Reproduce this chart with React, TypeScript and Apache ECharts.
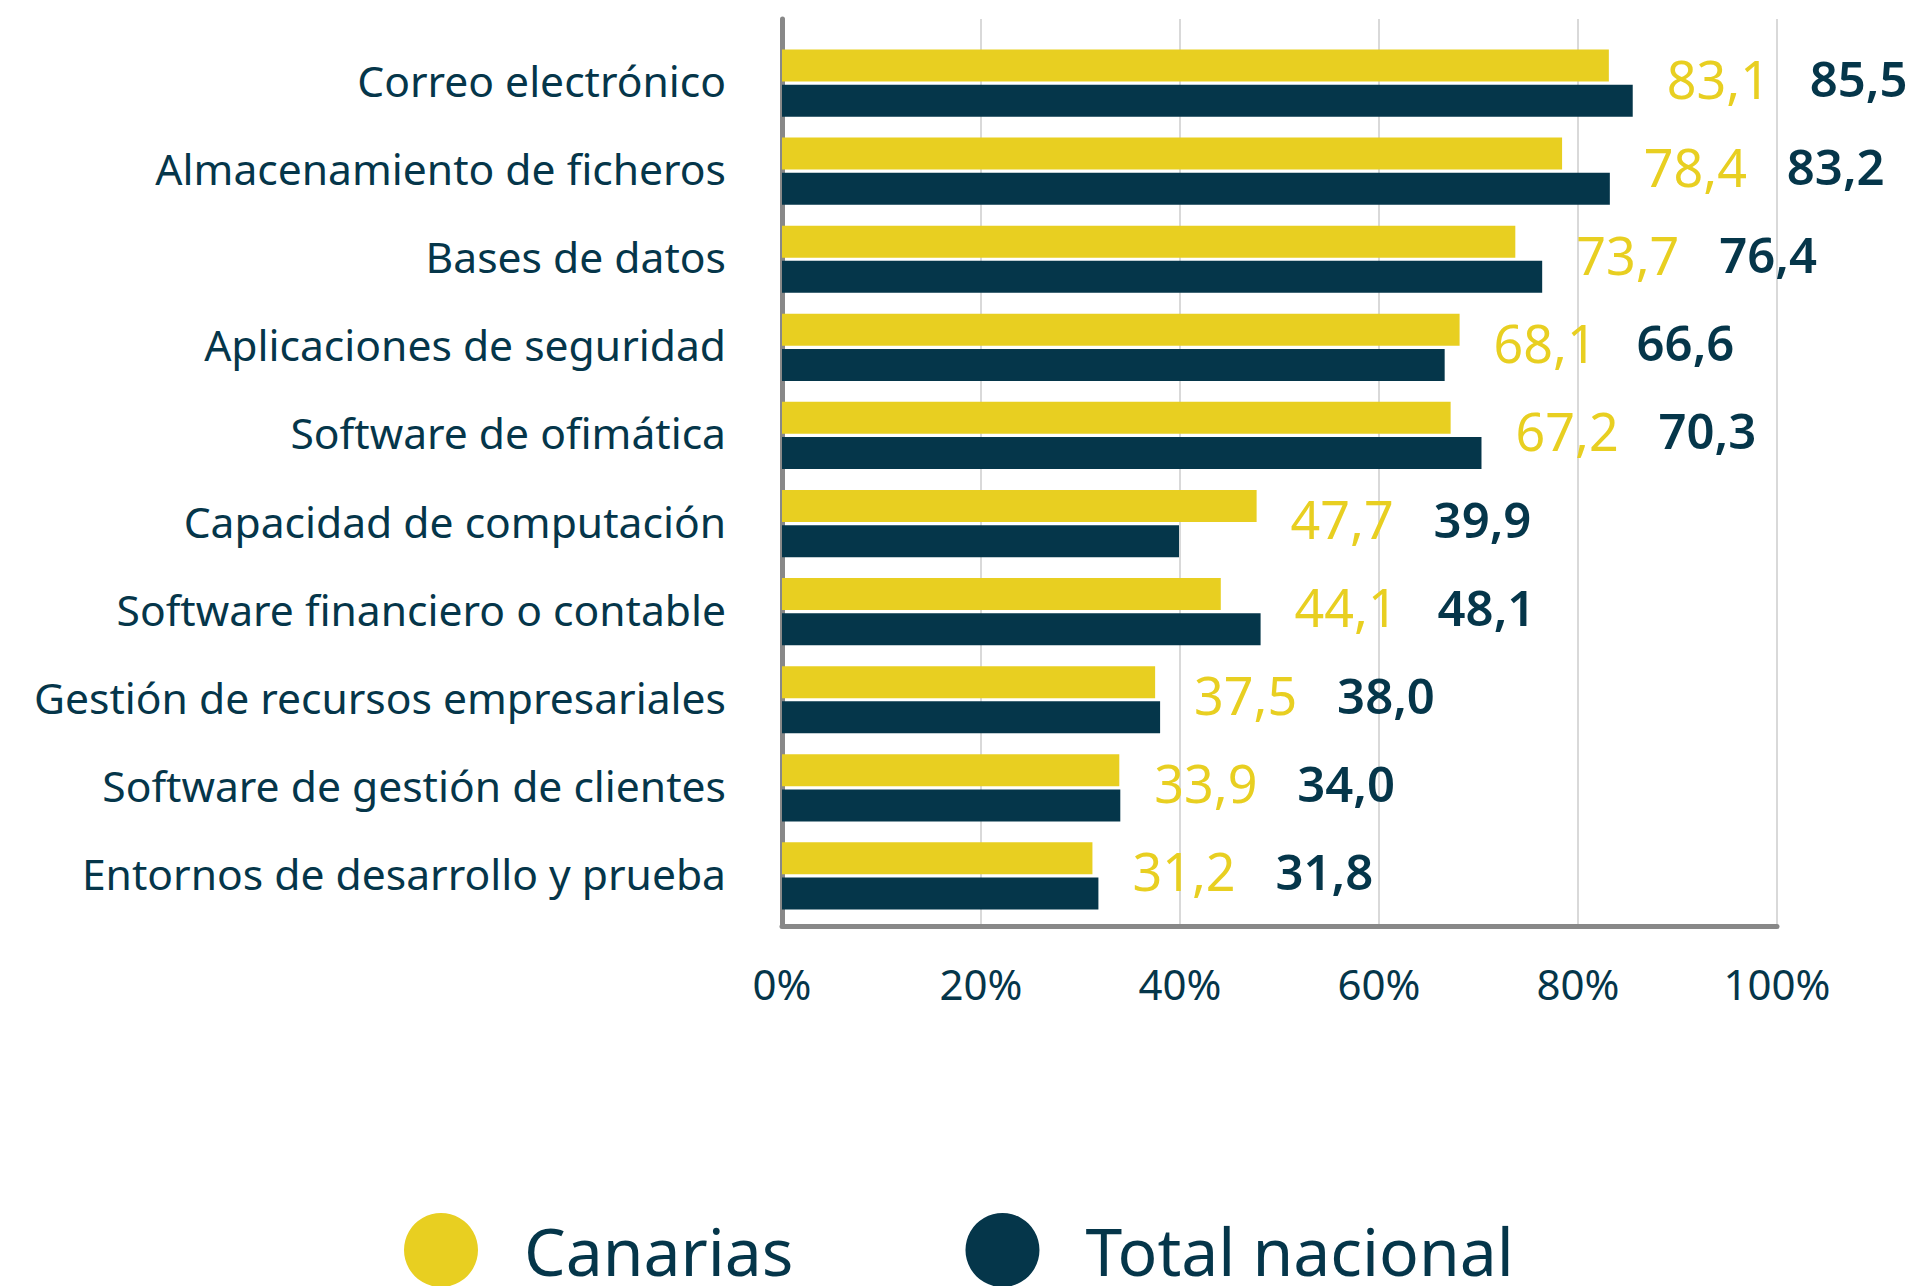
import React, { useEffect, useRef } from "react";
import * as echarts from "echarts";

const categories = [
  "Correo electrónico",
  "Almacenamiento de ficheros",
  "Bases de datos",
  "Aplicaciones de seguridad",
  "Software de ofimática",
  "Capacidad de computación",
  "Software financiero o contable",
  "Gestión de recursos empresariales",
  "Software de gestión de clientes",
  "Entornos de desarrollo y prueba",
];
const canarias = [83.1, 78.4, 73.7, 68.1, 67.2, 47.7, 44.1, 37.5, 33.9, 31.2];
const nacional = [85.5, 83.2, 76.4, 66.6, 70.3, 39.9, 48.1, 38.0, 34.0, 31.8];
const seriesNames = ["Canarias", "Total nacional"];
const xMin = 0;
const xMax = 100;
const xInterval = 20;

const YELLOW = "#E8CF21";
const DARK = "#05364A";
const FONT = "'Noto Sans', sans-serif";

const fmt = (v: number) => v.toFixed(1).replace(".", ",");

export default function App() {
  const ref = useRef<HTMLDivElement>(null);
  useEffect(() => {
    if (!ref.current) return;
    const chart = echarts.init(ref.current, undefined, { renderer: "svg" });
    const labelData = categories.map((_, i) => [Math.max(canarias[i], nacional[i]), i]);
    chart.setOption({
      animation: false,
      backgroundColor: "#ffffff",
      textStyle: { fontFamily: FONT },
      legend: {
        data: seriesNames,
        left: 404,
        top: 1213,
        padding: 0,
        icon: "circle",
        itemWidth: 74,
        itemHeight: 74,
        itemGap: 172,
        textStyle: {
          fontSize: 66,
          lineHeight: 62,
          color: DARK,
          fontFamily: FONT,
          padding: [0, 0, 0, 41],
        },
      },
      grid: [
        { left: 782, right: 138, top: 19, bottom: 360, containLabel: false },
        { left: 782, right: 138, top: 39, bottom: 366, containLabel: false },
      ],
      xAxis: [
        {
          gridIndex: 0,
          type: "value",
          min: xMin,
          max: xMax,
          interval: xInterval,
          axisLine: { show: true, lineStyle: { color: "#888888", width: 5 } },
          axisTick: { show: false },
          splitLine: { show: true, lineStyle: { color: "#d9d9d9", width: 2 } },
          axisLabel: {
            formatter: (v: number) => v + "%",
            fontSize: 42,
            color: DARK,
            fontFamily: FONT,
            margin: 36,
          },
        },
        { gridIndex: 1, type: "value", min: xMin, max: xMax, show: false },
      ],
      yAxis: [
        {
          gridIndex: 0,
          type: "value",
          min: 0,
          max: 1,
          position: "left",
          axisLine: { show: true, onZero: false, lineStyle: { color: "#888888", width: 5 } },
          axisTick: { show: false },
          axisLabel: { show: false },
          splitLine: { show: false },
        },
        {
          gridIndex: 1,
          type: "category",
          data: categories,
          inverse: true,
          axisLine: { show: false },
          axisTick: { show: false },
          splitLine: { show: false },
          axisLabel: {
            fontSize: 42.6,
            color: DARK,
            fontFamily: FONT,
            margin: 56,
            interval: 0,
            verticalAlign: "bottom",
            lineHeight: 6,
          },
        },
      ],
      series: [
        { type: "scatter", xAxisIndex: 0, yAxisIndex: 0, data: [], silent: true },
        {
          name: seriesNames[0],
          type: "bar",
          xAxisIndex: 1,
          yAxisIndex: 1,
          data: canarias,
          barWidth: 32,
          barGap: "10%",
          itemStyle: { color: YELLOW },
        },
        {
          name: seriesNames[1],
          type: "bar",
          xAxisIndex: 1,
          yAxisIndex: 1,
          data: nacional,
          barWidth: 32,
          barGap: "10%",
          itemStyle: { color: DARK },
        },
        {
          name: "labels",
          type: "scatter",
          xAxisIndex: 1,
          yAxisIndex: 1,
          data: labelData,
          symbolSize: 0,
          silent: true,
          itemStyle: { opacity: 1 },
          label: {
            show: true,
            position: "right",
            distance: 34,
            offset: [0, -5],
            opacity: 1,
            formatter: (p: any) => {
              const i = p.dataIndex;
              return `{a|${fmt(canarias[i])}}{b|${fmt(nacional[i])}}`;
            },
            rich: {
              a: { fontSize: 52, color: YELLOW, fontFamily: FONT, width: 143 },
              b: { fontSize: 49, color: DARK, fontFamily: FONT, fontWeight: 600 },
            },
          },
        },
      ],
    });
    return () => chart.dispose();
  }, []);
  return (
    <div
      ref={ref}
      style={{ position: "absolute", left: 0, top: 0, width: 1915, height: 1286 }}
    />
  );
}
